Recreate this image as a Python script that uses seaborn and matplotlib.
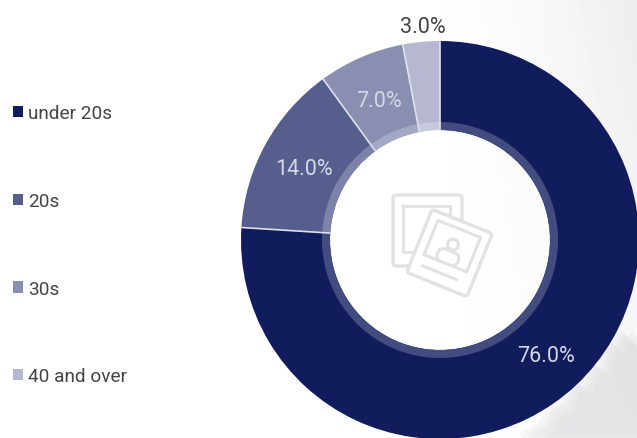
import numpy as np
import matplotlib.pyplot as plt
from matplotlib.patches import FancyBboxPatch, Rectangle, Circle, Polygon
from matplotlib.transforms import Affine2D
import seaborn as sns

categories = ['under 20s', '20s', '30s', '40 and over']
shares = [76.0, 14.0, 7.0, 3.0]
colors = ['#111c5c', '#565e8d', '#8a8eb1', '#b5b8d0']
ring_colors = ['#434c80', '#7c82a8', '#a4a8c4', '#c6c9dc']

sns.set_theme(style='white')
plt.rcParams['font.family'] = ['Roboto', 'DejaVu Sans']

W, H = 637, 439
CENTER = (440, 198)
OUTER = 199


def draw_background(ax):
    # faint grey wash on the right hand side, stronger towards the top
    yy, xx = np.mgrid[0:1:60j, 0:1:90j]
    wash = np.clip((xx - 0.6) / 0.4, 0, 1) ** 2 * (0.3 + 0.7 * yy) * 0.07
    ax.imshow(1 - wash, cmap='gray', vmin=0, vmax=1, origin='lower',
              extent=(0, W, 0, H), aspect='auto', zorder=0,
              interpolation='bicubic')
    # blurry crowd in the bottom right corner, stacked copies soften the edge
    crowd = np.array([(520, 0), (545, 14), (552, 30), (566, 34), (572, 56), (584, 52),
                      (592, 74), (602, 70), (608, 98), (616, 92), (622, 108), (630, 96),
                      (637, 104), (660, 0)])
    for dx, dy in [(-4, 3), (0, 0), (4, -3), (8, -8)]:
        ax.add_patch(Polygon(crowd + (dx, dy), facecolor='#d0d0d2', edgecolor='none',
                             alpha=0.16, zorder=0.5))


def draw_donut(ax):
    wedges, _ = ax.pie(shares, colors=sns.color_palette(colors), center=CENTER,
                       radius=OUTER, startangle=90, counterclock=False,
                       frame=True, wedgeprops={'width': OUTER - 110, 'linewidth': 0})
    ax.pie(shares, colors=sns.color_palette(ring_colors), center=CENTER,
           radius=118, startangle=90, counterclock=False, frame=True,
           wedgeprops={'width': 8, 'linewidth': 0})

    for wedge, share in zip(wedges, shares):
        start = np.radians(wedge.theta1)
        ax.plot([CENTER[0] + 110 * np.cos(start), CENTER[0] + OUTER * np.cos(start)],
                [CENTER[1] + 110 * np.sin(start), CENTER[1] + OUTER * np.sin(start)],
                color='#dfe1ec', lw=1.2, zorder=3)

        mid = np.radians((wedge.theta1 + wedge.theta2) / 2)
        # the smallest slice has its label outside the ring
        outside = share < 5
        dist = 217 if outside else 155
        ax.text(CENTER[0] + dist * np.cos(mid) + (3 if outside else 0),
                CENTER[1] + dist * np.sin(mid) - 3,
                f'{share:.1f}%', ha='center', va='center', fontsize=15.5,
                color='#444444' if outside else '#d5d8e6', zorder=6)
    return wedges


def draw_icon(ax):
    grey = '#e2e2e2'
    ax.add_patch(FancyBboxPatch((393, 172), 69, 71, boxstyle='round,pad=0,rounding_size=3',
                                fill=False, ec=grey, lw=2.4, zorder=4))
    ax.add_patch(Rectangle((403, 186), 47, 46, fill=False, ec=grey, lw=2.2, zorder=4))

    # front photo tilted clockwise
    front = Affine2D().rotate_deg_around(449.5, 185, -22) + ax.transData
    ax.add_patch(FancyBboxPatch((417, 151), 65, 68, boxstyle='round,pad=0,rounding_size=3',
                                fc='white', ec=grey, lw=2.4, transform=front, zorder=5))
    ax.add_patch(Rectangle((426.5, 174), 46, 37, fill=False, ec=grey, lw=2.2,
                           transform=front, zorder=5))
    ax.plot([429, 466], [163, 163], color=grey, lw=2.2, transform=front, zorder=5)
    ax.add_patch(Circle((449.5, 194), 5.5, fill=False, ec=grey, lw=2.2,
                        transform=front, zorder=5))
    ax.add_patch(FancyBboxPatch((438.5, 174), 22, 13, boxstyle='round,pad=0,rounding_size=6',
                                fill=False, ec=grey, lw=2.2, transform=front, zorder=5))


def draw_legend(ax, wedges):
    ax.legend(wedges, categories, loc='upper left', bbox_to_anchor=(0.02, 0.76),
              frameon=False, fontsize=13.7, labelspacing=3.66, handlelength=0.55,
              handleheight=0.55, handletextpad=0.25, borderpad=0, borderaxespad=0,
              labelcolor='#444444')


fig = plt.figure(figsize=(W / 100, H / 100), dpi=100)
ax = fig.add_axes([0, 0, 1, 1])
draw_background(ax)
wedges = draw_donut(ax)
draw_icon(ax)
draw_legend(ax, wedges)
ax.set_xlim(0, W)
ax.set_ylim(0, H)
ax.set_aspect('auto')
ax.axis('off')
fig.savefig('out.png', dpi=100)
